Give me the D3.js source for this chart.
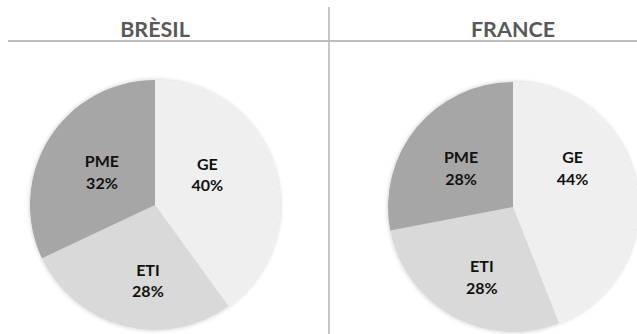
<!DOCTYPE html>
<html>
<head>
<meta charset="utf-8">
<script src="https://cdn.jsdelivr.net/npm/d3@7/dist/d3.min.js"></script>
<style>
  html, body { margin: 0; padding: 0; background: #fff; }
  svg { display: block; }
</style>
</head>
<body>
<svg id="chart" width="637" height="334"></svg>
<script>
// Company-size split (GE / ETI / PME), in percent, per country
const countries = ["BRÈSIL", "FRANCE"];
const categories = ["GE", "ETI", "PME"];
const bresilValues = [40, 28, 32];
const franceValues = [44, 28, 28];

const seriesByCountry = [bresilValues, franceValues];

// Layout
const W = 637, H = 334;
const radius = 125;
const centers = [[155, 205], [513, 207]];
const titleBaseline = 37;
const ruleY = 41;
const dividerX = 329;
const labelRadius = radius * 0.55;
// small per-slice label nudges (dx, dy) so the text sits well inside each wedge
const labelNudges = [
  { GE: [-13, -9], ETI: [10, 9], PME: [5, 4] },
  { GE: [-8, -26], ETI: [2, 10], PME: [1, 5] }
];

const svg = d3.select("#chart");

const color = d3.scaleOrdinal(categories, ["#efefef", "#d9d9d9", "#a6a6a6"]);

// soft shadow around each pie
const defs = svg.append("defs");
const f = defs.append("filter").attr("id", "pieShadow")
  .attr("x", "-10%").attr("y", "-10%").attr("width", "120%").attr("height", "120%");
f.append("feDropShadow").attr("dx", 0).attr("dy", 0)
  .attr("stdDeviation", 2.2).attr("flood-color", "#000").attr("flood-opacity", 0.22);

// header rule and vertical divider
svg.append("line")
  .attr("x1", 8).attr("x2", W).attr("y1", ruleY).attr("y2", ruleY)
  .attr("stroke", "#a9a9a9").attr("stroke-width", 1.5);
svg.append("line")
  .attr("x1", dividerX).attr("x2", dividerX).attr("y1", 7).attr("y2", H)
  .attr("stroke", "#b5b5b5").attr("stroke-width", 1.5);

const pie = d3.pie().sort(null).value(d => d.value);
const arc = d3.arc().innerRadius(0).outerRadius(radius);
const labelArc = d3.arc().innerRadius(labelRadius).outerRadius(labelRadius);

countries.forEach((name, i) => {
  const [cx, cy] = centers[i];
  const data = categories.map((c, k) => ({ category: c, value: seriesByCountry[i][k] }));

  svg.append("text")
    .attr("x", cx).attr("y", titleBaseline)
    .attr("text-anchor", "middle")
    .attr("font-family", "Lato, 'Open Sans', sans-serif")
    .attr("font-weight", 700)
    .attr("font-size", 21.5)
    .attr("fill", "#595959")
    .text(name);

  const g = svg.append("g").attr("transform", `translate(${cx},${cy})`);

  g.append("g").attr("filter", "url(#pieShadow)")
    .selectAll("path")
    .data(pie(data))
    .join("path")
    .attr("d", arc)
    .attr("fill", d => color(d.data.category));

  const labels = g.selectAll("text.lbl")
    .data(pie(data))
    .join("text")
    .attr("class", "lbl")
    .attr("text-anchor", "middle")
    .attr("font-family", "Lato, 'Open Sans', sans-serif")
    .attr("font-weight", 700)
    .attr("font-size", 16)
    .attr("fill", "#111")
    .attr("transform", d => {
      const [x, y] = labelArc.centroid(d);
      const [dx, dy] = labelNudges[i][d.data.category];
      return `translate(${x + dx},${y + dy})`;
    });

  labels.append("tspan").attr("x", 0).attr("y", -5).text(d => d.data.category);
  labels.append("tspan").attr("x", 0).attr("y", 16.7).text(d => d.data.value + "%");
});
</script>
</body>
</html>
